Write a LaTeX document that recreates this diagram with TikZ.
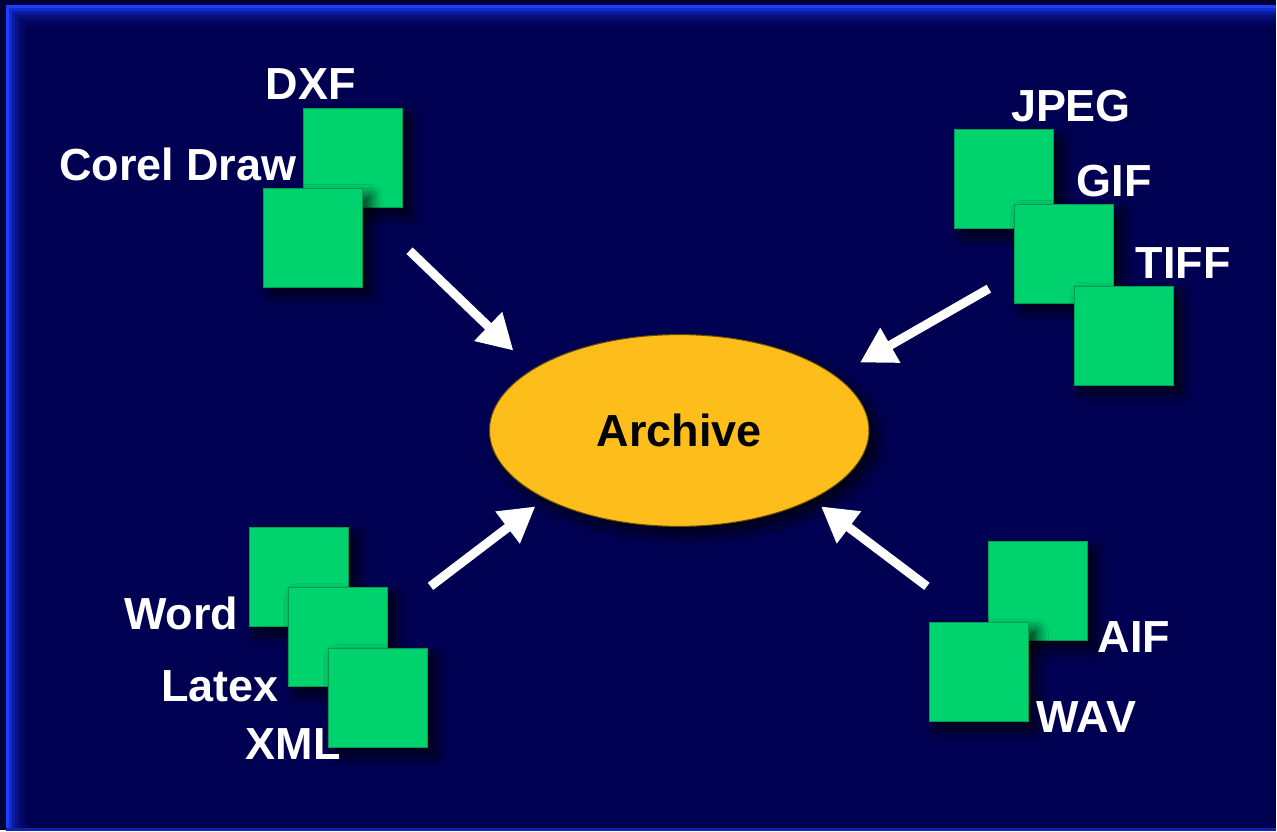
\documentclass[tikz,border=0pt]{standalone}
\usepackage{fontspec}
\setmainfont{Liberation Sans}
\usetikzlibrary{shapes.geometric,arrows.meta,shadows.blur}
\definecolor{navy}{RGB}{0,0,82}
\definecolor{outernavy}{RGB}{0,0,54}
\definecolor{frameblue}{RGB}{28,62,255}
\definecolor{boxgreen}{RGB}{0,210,110}
\definecolor{archivegold}{RGB}{253,190,28}
\tikzset{
  fmt shadow/.style={
    blur shadow={shadow xshift=8pt,shadow yshift=-8pt,shadow blur radius=12pt,shadow blur steps=10,shadow opacity=80}
  },
  fmt box/.style={
    draw=boxgreen!75!black, line width=1pt, fill=boxgreen,
    minimum size=99pt, inner sep=0pt, fmt shadow
  },
  fmt label/.style={
    text=white, anchor=base west, inner sep=0pt,
    font=\bfseries\fontsize{45}{52}\selectfont
  },
  archive node/.style={
    ellipse, draw=archivegold!40!black, line width=1pt, fill=archivegold,
    minimum width=380pt, minimum height=192pt, inner sep=0pt,
    font=\bfseries\fontsize{45}{52}\selectfont, fmt shadow
  },
  into archive/.style={
    draw=white, line width=9pt, -{Triangle[length=35pt,width=38pt]}
  }
}
\begin{document}
\begin{tikzpicture}[x=1pt,y=-1pt]
% backdrop with the blue frame
\fill[outernavy] (0,0) rectangle (1277,831);
\fill[navy] (6,5) rectangle (1277,831);
\foreach \i/\op in {18/5,15/10,12/18,9/30,6/45,3/70,0/100}
  \draw[frameblue!\op!navy, line width=3pt] (7.5+\i,831) -- (7.5+\i,6.5+\i) -- (1277,6.5+\i);
\draw[frameblue!55!navy, line width=3pt] (6,830) -- (1277,830);
\useasboundingbox (0,0) rectangle (1277,831);

% vector formats
\node[fmt box] (dxf) at (353,158) {};
\node[fmt box] (corel) at (313,238) {};
\node[fmt label] (dxf label) at (266,100) {DXF};
\node[fmt label] (corel label) at (59,181) {Corel Draw};

% bitmap formats
\node[fmt box] (jpeg) at (1005.5,179.5) {};
\node[fmt box] (gif) at (1065.5,254) {};
\node[fmt box] (tiff) at (1125.5,336) {};
\node[fmt label] (jpeg label) at (1012,122) {JPEG};
\node[fmt label] (gif label) at (1078,197) {GIF};
\node[fmt label] (tiff label) at (1137,279) {TIFF};

% text formats
\node[fmt box] (word) at (299,577.5) {};
\node[fmt box] (latex) at (338.5,638) {};
\node[fmt box] (xml) at (378.5,698.5) {};
\node[fmt label] (word label) at (124,630) {Word};
\node[fmt label] (latex label) at (161,702) {Latex};
\node[fmt label] (xml label) at (246,760) {XML};

% sound formats
\node[fmt box] (aif) at (1039.5,592) {};
\node[fmt box] (wav) at (980,673) {};
\node[fmt label] (aif label) at (1099,653) {AIF};
\node[fmt label] (wav label) at (1038,733) {WAV};

\node[archive node] (archive) at (680,431) {Archive};

\coordinate (vector tail) at (410,251);
\coordinate (vector tip) at (514,351);
\coordinate (bitmap tail) at (990,289);
\coordinate (bitmap tip) at (861,363);
\coordinate (text tail) at (431,587);
\coordinate (text tip) at (536,507);
\coordinate (sound tail) at (928,587);
\coordinate (sound tip) at (822,507);
\draw[into archive] (vector tail) -- (vector tip);
\draw[into archive] (bitmap tail) -- (bitmap tip);
\draw[into archive] (text tail) -- (text tip);
\draw[into archive] (sound tail) -- (sound tip);
\end{tikzpicture}
\end{document}
